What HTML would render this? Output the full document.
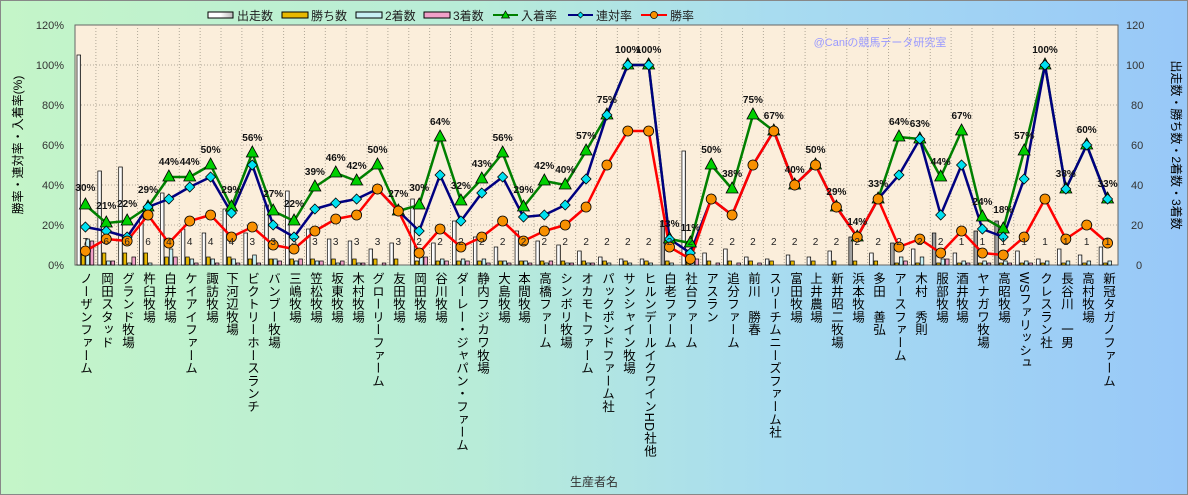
<!DOCTYPE html>
<html><head><meta charset="utf-8"><style>
body{margin:0;width:1188px;height:495px;overflow:hidden;font-family:"Liberation Sans","Noto Sans CJK JP",sans-serif;}
#bg{position:absolute;left:0;top:0;width:1186px;height:493px;border:1px solid #888;background:linear-gradient(90deg,#c4f5c8 0%,#b8ecd8 40%,#a8dcf0 65%,#98c8f8 100%);}
.cl{position:absolute;top:272px;writing-mode:vertical-rl;font-size:12.5px;line-height:14px;color:#000;width:14px;margin-left:-7px;white-space:nowrap;letter-spacing:0.3px}
svg{position:absolute;left:0;top:0}
</style></head><body>
<div id="bg"></div>
<svg width="1188" height="495" id="s">
<defs>
<linearGradient id="wb" x1="0" x2="1"><stop offset="0" stop-color="#fff"/><stop offset="0.5" stop-color="#fff"/><stop offset="1" stop-color="#bbb"/></linearGradient>
</defs>
<rect x="75" y="25" width="1043" height="240" fill="#fbeedb" stroke="#666"/>
<g id="grid"></g><g id="bars"></g><g id="lines"></g>
<g font-size="11" fill="#333" text-anchor="end">
<text x="64" y="29">120%</text><text x="64" y="69">100%</text><text x="64" y="109">80%</text><text x="64" y="149">60%</text><text x="64" y="189">40%</text><text x="64" y="229">20%</text><text x="64" y="269">0%</text>
</g>
<g font-size="11" fill="#333">
<text x="1126" y="29">120</text><text x="1126" y="69">100</text><text x="1131" y="109">80</text><text x="1131" y="149">60</text><text x="1131" y="189">40</text><text x="1131" y="229">20</text><text x="1136" y="269">0</text>
</g>
<text x="22" y="145" font-size="12" transform="rotate(-90 22 145)" text-anchor="middle">勝率・連対率・入着率(%)</text>
<text x="1172" y="145" font-size="12" transform="rotate(90 1172 145)" text-anchor="middle">出走数・勝ち数・2着数・3着数</text>
<text x="594" y="486" font-size="12" text-anchor="middle" fill="#333">生産者名</text>
<text x="880" y="46" font-size="11" fill="#9999ff" text-anchor="middle">@Caniの競馬データ研究室</text>
<g font-size="12" fill="#222">
<rect x="208" y="12" width="25" height="6" fill="url(#wb)" stroke="#000"/><text x="237" y="20">出走数</text>
<rect x="282" y="12" width="26" height="6" fill="#e8b800" stroke="#000"/><text x="311" y="20">勝ち数</text>
<rect x="356" y="12" width="26" height="6" fill="#c8f0f4" stroke="#000"/><text x="385" y="20">2着数</text>
<rect x="424" y="12" width="26" height="6" fill="#f0a0c8" stroke="#000"/><text x="453" y="20">3着数</text>
<line x1="493" y1="15" x2="518" y2="15" stroke="#008000" stroke-width="2"/><polygon points="505.5,11 509.5,18 501.5,18" fill="#00d000" stroke="#000" stroke-width="0.7"/><text x="521" y="20">入着率</text>
<line x1="568" y1="15" x2="593" y2="15" stroke="#000080" stroke-width="2"/><polygon points="580.5,12 583.5,15 580.5,18 577.5,15" fill="#00e0f0" stroke="#000" stroke-width="0.7"/><text x="596" y="20">連対率</text>
<line x1="641" y1="15" x2="667" y2="15" stroke="#ff0000" stroke-width="2"/><circle cx="654" cy="15" r="3.5" fill="#f89000" stroke="#000" stroke-width="0.7"/><text x="670" y="20">勝率</text>
</g>
<g id="labs" font-size="10" font-weight="bold" fill="#111" text-anchor="middle">
<text x="85.4" y="191">30%</text><text x="106.3" y="209">21%</text><text x="127.1" y="207">22%</text><text x="148.0" y="193">29%</text><text x="168.9" y="165">44%</text><text x="189.7" y="165">44%</text><text x="210.6" y="153">50%</text><text x="231.4" y="193">29%</text><text x="252.3" y="141">56%</text><text x="273.2" y="197">27%</text><text x="294.0" y="207">22%</text><text x="314.9" y="175">39%</text><text x="335.7" y="161">46%</text><text x="356.6" y="169">42%</text><text x="377.5" y="153">50%</text><text x="398.3" y="197">27%</text><text x="419.2" y="191">30%</text><text x="440.0" y="125">64%</text><text x="460.9" y="189">32%</text><text x="481.8" y="167">43%</text><text x="502.6" y="141">56%</text><text x="523.5" y="193">29%</text><text x="544.3" y="169">42%</text><text x="565.2" y="173">40%</text><text x="586.1" y="139">57%</text><text x="606.9" y="103">75%</text><text x="627.8" y="53">100%</text><text x="648.6" y="53">100%</text><text x="669.5" y="227">13%</text><text x="690.4" y="231">11%</text><text x="711.2" y="153">50%</text><text x="732.1" y="177">38%</text><text x="752.9" y="103">75%</text><text x="773.8" y="119">67%</text><text x="794.7" y="173">40%</text><text x="815.5" y="153">50%</text><text x="836.4" y="195">29%</text><text x="857.2" y="225">14%</text><text x="878.1" y="187">33%</text><text x="899.0" y="125">64%</text><text x="919.8" y="127">63%</text><text x="940.7" y="165">44%</text><text x="961.5" y="119">67%</text><text x="982.4" y="205">24%</text><text x="1003.3" y="213">18%</text><text x="1024.1" y="139">57%</text><text x="1045.0" y="53">100%</text><text x="1065.8" y="177">38%</text><text x="1086.7" y="133">60%</text><text x="1107.6" y="187">33%</text>
</g>
<g font-size="10" fill="#222" text-anchor="middle">
<text x="85.4" y="245">7</text><text x="106.3" y="245">6</text><text x="127.1" y="245">6</text><text x="148.0" y="245">6</text><text x="168.9" y="245">4</text><text x="189.7" y="245">4</text><text x="210.6" y="245">4</text><text x="231.4" y="245">4</text><text x="252.3" y="245">3</text><text x="273.2" y="245">3</text><text x="294.0" y="245">3</text><text x="314.9" y="245">3</text><text x="335.7" y="245">3</text><text x="356.6" y="245">3</text><text x="377.5" y="245">3</text><text x="398.3" y="245">3</text><text x="419.2" y="245">2</text><text x="440.0" y="245">2</text><text x="460.9" y="245">2</text><text x="481.8" y="245">2</text><text x="502.6" y="245">2</text><text x="523.5" y="245">2</text><text x="544.3" y="245">2</text><text x="565.2" y="245">2</text><text x="586.1" y="245">2</text><text x="606.9" y="245">2</text><text x="627.8" y="245">2</text><text x="648.6" y="245">2</text><text x="669.5" y="245">2</text><text x="690.4" y="245">2</text><text x="711.2" y="245">2</text><text x="732.1" y="245">2</text><text x="752.9" y="245">2</text><text x="773.8" y="245">2</text><text x="794.7" y="245">2</text><text x="815.5" y="245">2</text><text x="836.4" y="245">2</text><text x="857.2" y="245">2</text><text x="878.1" y="245">2</text><text x="899.0" y="245">2</text><text x="919.8" y="245">2</text><text x="940.7" y="245">2</text><text x="961.5" y="245">1</text><text x="982.4" y="245">1</text><text x="1003.3" y="245">1</text><text x="1024.1" y="245">1</text><text x="1045.0" y="245">1</text><text x="1065.8" y="245">1</text><text x="1086.7" y="245">1</text><text x="1107.6" y="245">1</text>
</g>
</svg>
<div class="cl" style="left:85px">ノーザンファーム</div>
<div class="cl" style="left:106px">岡田スタッド</div>
<div class="cl" style="left:127px">グランド牧場</div>
<div class="cl" style="left:148px">杵臼牧場</div>
<div class="cl" style="left:169px">白井牧場</div>
<div class="cl" style="left:190px">ケイアイファーム</div>
<div class="cl" style="left:211px">諏訪牧場</div>
<div class="cl" style="left:231px">下河辺牧場</div>
<div class="cl" style="left:252px">ビクトリーホースランチ</div>
<div class="cl" style="left:273px">バンブー牧場</div>
<div class="cl" style="left:294px">三嶋牧場</div>
<div class="cl" style="left:315px">笠松牧場</div>
<div class="cl" style="left:336px">坂東牧場</div>
<div class="cl" style="left:357px">木村牧場</div>
<div class="cl" style="left:377px">グローリーファーム</div>
<div class="cl" style="left:398px">友田牧場</div>
<div class="cl" style="left:419px">岡田牧場</div>
<div class="cl" style="left:440px">谷川牧場</div>
<div class="cl" style="left:461px">ダーレー・ジャパン・ファーム</div>
<div class="cl" style="left:482px">静内フジカワ牧場</div>
<div class="cl" style="left:503px">大島牧場</div>
<div class="cl" style="left:523px">本間牧場</div>
<div class="cl" style="left:544px">高橋ファーム</div>
<div class="cl" style="left:565px">シンボリ牧場</div>
<div class="cl" style="left:586px">オカモトファーム</div>
<div class="cl" style="left:607px">パックポンドファーム社</div>
<div class="cl" style="left:628px">サンシャイン牧場</div>
<div class="cl" style="left:649px">ヒルンデールイクワインHD社他</div>
<div class="cl" style="left:669px">白老ファーム</div>
<div class="cl" style="left:690px">社台ファーム</div>
<div class="cl" style="left:711px">アスラン</div>
<div class="cl" style="left:732px">追分ファーム</div>
<div class="cl" style="left:753px">前川　勝春</div>
<div class="cl" style="left:774px">スリーチムニーズファーム社</div>
<div class="cl" style="left:795px">富田牧場</div>
<div class="cl" style="left:815px">上井農場</div>
<div class="cl" style="left:836px">新井昭二牧場</div>
<div class="cl" style="left:857px">浜本牧場</div>
<div class="cl" style="left:878px">多田　善弘</div>
<div class="cl" style="left:899px">アースファーム</div>
<div class="cl" style="left:920px">木村　秀則</div>
<div class="cl" style="left:941px">服部牧場</div>
<div class="cl" style="left:961px">酒井牧場</div>
<div class="cl" style="left:982px">ヤナガワ牧場</div>
<div class="cl" style="left:1003px">高昭牧場</div>
<div class="cl" style="left:1024px">WSファリッシュ</div>
<div class="cl" style="left:1045px">クレスラン社</div>
<div class="cl" style="left:1066px">長谷川　一男</div>
<div class="cl" style="left:1087px">高村牧場</div>
<div class="cl" style="left:1108px">新冠タガノファーム</div>
<script>
var N=[105,47,49,24,36,18,16,28,16,30,37,18,13,12,8,11,33,11,22,14,9,17,12,10,7,4,3,3,22,57,6,8,4,3,5,4,7,14,6,11,8,16,6,17,22,7,3,8,5,9];
var W=[7,13,12,25,11,22,25,14,19,10,8,17,23,25,38,27,6,18,9,14,22,12,17,20,29,50,67,67,9,3,33,25,50,67,40,50,29,14,33,9,13,6,17,6,5,14,33,13,20,11];
var R=[19,17,14,29,33,39,44,26,50,20,14,28,31,33,38,27,17,45,22,36,44,24,25,30,43,75,100,100,13,6,33,25,50,67,40,50,29,14,33,45,63,25,50,18,14,43,100,38,60,33];
var T=[30,21,22,29,44,44,50,29,56,27,22,39,46,42,50,27,30,64,32,43,56,29,42,40,57,75,100,100,13,11,50,38,75,67,40,50,29,14,33,64,63,44,67,24,18,57,100,38,60,33];
var NS="http://www.w3.org/2000/svg";
function el(p,t,a){var e=document.createElementNS(NS,t);for(var k in a)e.setAttribute(k,a[k]);document.getElementById(p).appendChild(e);return e;}
var cw=1043/50;function cx(i){return 75+cw*(i+0.5);}function y(v){return 265-2*v;}
for(var i=1;i<50;i++)el('grid','line',{x1:75+cw*i,x2:75+cw*i,y1:25,y2:265,stroke:'#b0a898','stroke-dasharray':'1,2','stroke-width':1});
for(var v=20;v<120;v+=20)el('grid','line',{x1:75,x2:1118,y1:y(v),y2:y(v),stroke:'#b0a898','stroke-dasharray':'1,2','stroke-width':1});
var gray={28:1,37:1,39:1,41:1,43:1,44:1};
for(var i=0;i<50;i++){var x0=75+cw*i+2,bw=3.6,n=N[i],w=Math.round(W[i]*n/100),r2=Math.round((R[i]-W[i])*n/100),t3=Math.round((T[i]-R[i])*n/100);
var vals=[n,w,r2,t3],cols=[gray[i]?'#a0a0a0':'url(#wb)','#e8b800','#c8f0f4','#f0a0c8'];
for(var j=0;j<4;j++){var h=vals[j]*2;if(h>0)el('bars','rect',{x:x0+j*(bw+0.8),y:265-h,width:bw,height:h,fill:cols[j],stroke:'#000','stroke-width':0.7});}}
function line(A,c){var p=A.map(function(v,i){return cx(i)+','+y(v)}).join(' ');el('lines','polyline',{points:p,fill:'none',stroke:c,'stroke-width':2.5,'stroke-linejoin':'round'});}
line(T,'#008000');line(R,'#000080');line(W,'#ff0000');
for(var i=0;i<50;i++){var x=cx(i);
el('lines','polygon',{points:x+','+(y(T[i])-7)+' '+(x+6)+','+(y(T[i])+4)+' '+(x-6)+','+(y(T[i])+4),fill:'#00d000',stroke:'#000','stroke-width':0.8});
el('lines','polygon',{points:x+','+(y(R[i])-5)+' '+(x+5)+','+y(R[i])+' '+x+','+(y(R[i])+5)+' '+(x-5)+','+y(R[i]),fill:'#00e0f0',stroke:'#000','stroke-width':0.8});
el('lines','circle',{cx:x,cy:y(W[i]),r:5,fill:'#f89000',stroke:'#000','stroke-width':0.8});}
</script>
</body></html>
